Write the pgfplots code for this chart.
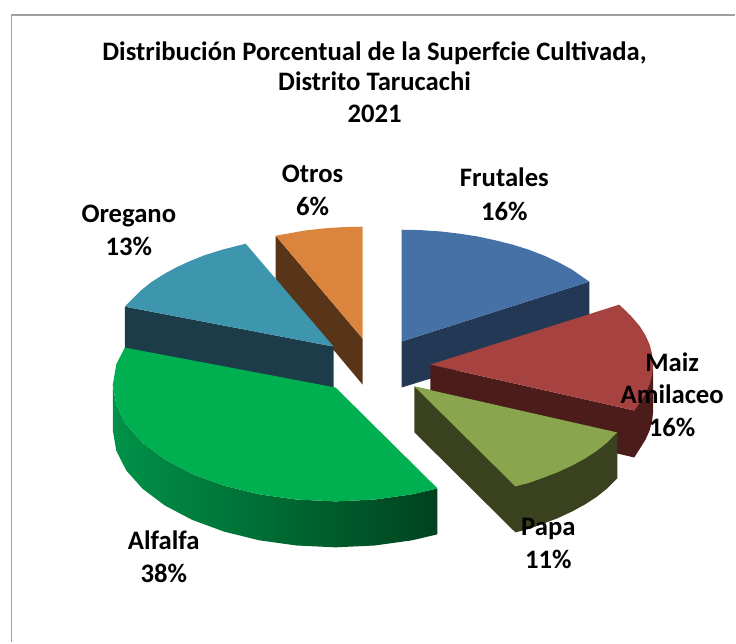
\documentclass[border=0pt]{standalone}
\usepackage{pgfplots}
\pgfplotsset{compat=1.18}
\usepackage{fontspec}
\setmainfont{Carlito}
\definecolor{fru}{RGB}{70,113,166}\definecolor{fruS}{RGB}{34,56,84}
\definecolor{mai}{RGB}{166,66,64}\definecolor{maiS}{RGB}{75,28,26}
\definecolor{pap}{RGB}{137,165,78}\definecolor{papS}{RGB}{58,65,30}
\definecolor{alf}{RGB}{0,176,80}\definecolor{alfL}{RGB}{0,146,72}\definecolor{alfM}{RGB}{0,128,60}\definecolor{alfR}{RGB}{0,66,30}
\definecolor{ore}{RGB}{61,150,174}\definecolor{oreS}{RGB}{27,60,72}
\definecolor{otr}{RGB}{219,132,61}\definecolor{otrS}{RGB}{88,52,24}
\newcommand{\lab}[3]{\node[font=\fontsize{#1}{#1}\selectfont\bfseries,text=black,inner sep=0pt,anchor=center] at (axis cs:#2) {\strut #3};}
\begin{document}
\begin{tikzpicture}
\begin{axis}[hide axis,scale only axis,width=736pt,height=643pt,xmin=0,xmax=736,ymin=0,ymax=643,y dir=reverse,clip=false]
\addplot[fill=white,draw=none] coordinates {(0,0)(736,0)(736,643)(0,643)} --cycle;
\addplot[draw={rgb,255:red,160;green,160;blue,160},line width=1.8pt] coordinates {(11.5,643)(11.5,15)(736,15)};
% Frutales
\addplot[fill=fruS,draw=none] coordinates {(402,342)(590,282)(590,330)(402,388)} --cycle;
\addplot[fill=fru,draw=none] coordinates {(402,342)(402,230)(421,230.4)(440.7,231.7)(459.5,233.9)(478.3,236.8)(496,240.6)(513.5,245)(530,250.2)(545.4,256.2)(559.6,262.8)(572.8,270)(590,282)} --cycle;
% Otros
\addplot[fill=otrS,draw=none] coordinates {(276,236)(276,281)(363,385)(363,339)} --cycle;
\addplot[fill=otr,draw=none] coordinates {(276,236)(305.3,230.8)(324.3,228.7)(343.6,227.4)(363,227)(363,339)} --cycle;
% Oregano
\addplot[fill=oreS,draw=none] coordinates {(125,307)(125,350)(334,390)(334,347)} --cycle;
\addplot[fill=ore,draw=none] coordinates {(246,244)(222.5,250)(205.8,255.2)(190.6,261.2)(176.3,267.8)(163.2,275)(151.4,282.6)(140.9,291)(125,307)(334,347)} --cycle;
% Alfalfa
\addplot[left color=alfL,middle color=alfM,right color=alfR,draw=none] coordinates {(113,385)(116.4,405.3)(126.4,425)(142.9,443.5)(165.2,460.2)(192.6,474.6)(224.5,486.3)(259.7,495)(297.2,500.2)(336,502)(374.8,500.2)(412.3,495)(438,489)(438,535)(412.3,541)(374.8,546.2)(336,548)(297.2,546.2)(259.7,541)(224.5,532.3)(192.6,520.6)(165.2,506.2)(142.9,489.5)(126.4,471)(116.4,451.3)(113,431)} --cycle;
\addplot[fill=alf,draw=none] coordinates {(336,388)(125,348)(116.4,364.7)(113,385)(116.4,405.3)(126.4,425)(142.9,443.5)(165.2,460.2)(192.6,474.6)(224.5,486.3)(259.7,495)(297.2,500.2)(336,502)(374.8,500.2)(412.3,495)(438,489)} --cycle;
% Maiz
\addplot[fill=maiS,draw=none] coordinates {(431,365)(635,411)(635,458)(431,411)} --cycle;
\addplot[fill=maiS,draw=none] coordinates {(635,411)(654,365)(654,411)(653,421)(650.6,430.5)(646.4,440)(640.6,449.3)(635,458)} --cycle;
\addplot[fill=mai,draw=none] coordinates {(431,365)(620,305)(631.4,316)(640.6,326.7)(646.4,336)(650.6,345.5)(653,355)(654,365)(653,375)(650.6,384.5)(646.4,394)(640.6,403.3)(635,411)} --cycle;
% Papa
\addplot[fill=papS,draw=none] coordinates {(415,387)(415,433)(516,533)(528,530)(539.7,525.9)(558.4,518.8)(573,512)(585.8,505)(597.5,497.4)(608,489)(618,479)(618,433)} --cycle;
\addplot[fill=pap,draw=none] coordinates {(415,387)(516,487)(528,484)(539.7,479.9)(558.4,472.8)(573,466)(585.8,459)(597.5,451.4)(608,443)(618,433)} --cycle;
% texts
\lab{26.7}{375,55}{Distribución Porcentual de la Superfcie Cultivada,}
\lab{26.7}{375,85}{Distrito Tarucachi}
\lab{26.7}{375,117}{2021}
\lab{26.7}{505,181}{Frutales}
\lab{26.7}{505,215}{16\%}
\lab{26.7}{313,177}{Otros}
\lab{26.7}{313,210}{6\%}
\lab{26.7}{129,217}{Oregano}
\lab{26.7}{129,250}{13\%}
\lab{26.7}{673,367}{Maiz}
\lab{26.7}{673,399}{Amilaceo}
\lab{26.7}{673,432}{16\%}
\lab{26.7}{549,531}{Papa}
\lab{26.7}{549,564}{11\%}
\lab{26.7}{164,545}{Alfalfa}
\lab{26.7}{164,578}{38\%}
\end{axis}
\end{tikzpicture}
\end{document}
